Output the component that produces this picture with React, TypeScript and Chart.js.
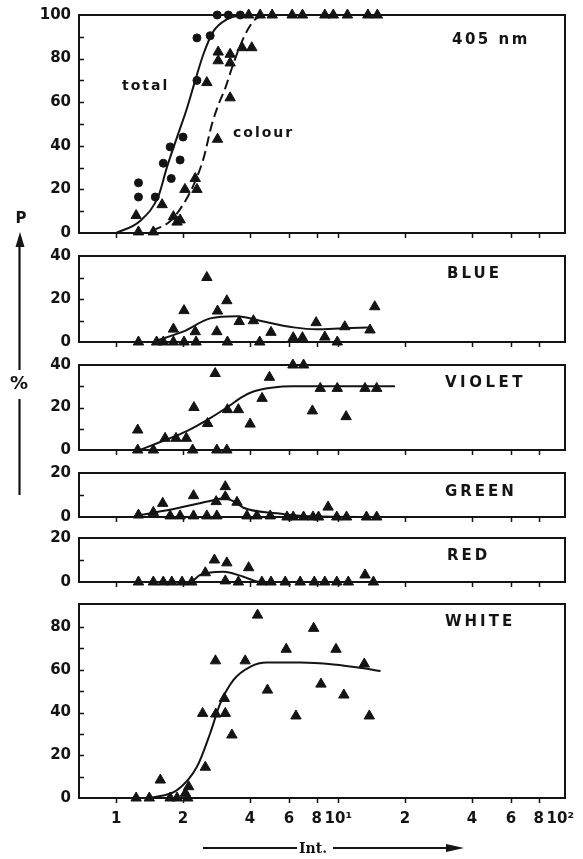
import React, { useEffect, useRef } from "react";
import { Chart, registerables } from "chart.js";
Chart.register(...registerables);

const INK = "#141414";
const FONT = "DejaVu Sans";

const X_MIN = 0.68;
const X_MAX = 105;
const xTickValues = [1, 2, 4, 6, 8, 10, 20, 40, 60, 80, 100];
const xTickLabels = ["1", "2", "4", "6", "8", "10¹", "2", "4", "6", "8", "10²"];

// ---- 405 nm panel ----
const totalX = [1.26, 1.26, 1.5, 1.63, 1.75, 1.77, 1.94, 2.0, 2.31, 2.31, 2.65, 2.85, 3.2, 3.62];
const totalY = [23, 16.5, 16.5, 32, 39.5, 25, 33.5, 44, 70, 89.5, 90.5, 100, 100, 100];
const colourX = [1.23, 1.26, 1.47, 1.61, 1.81, 1.88, 1.94, 2.04, 2.31, 2.27, 2.56, 2.86, 2.88, 2.88, 3.26, 3.26, 3.26, 3.69, 4.08, 3.95, 4.45, 5.04, 6.2, 6.9, 8.7, 9.5, 11.0, 13.6, 15.0];
const colourY = [8, 0.5, 0.5, 13, 7.5, 5, 6, 20, 20, 25, 69, 43, 79, 83, 62, 78, 82, 85, 85, 100, 100, 100, 100, 100, 100, 100, 100, 100, 100];
const totalCurveX = [1.0, 1.28, 1.55, 1.69, 1.88, 2.08, 2.27, 2.47, 2.74, 3.15, 3.74];
const totalCurveY = [0, 5.5, 17, 30, 44, 57, 70, 82, 92.5, 98, 100];
const colourCurveX = [1.45, 1.75, 2.0, 2.23, 2.47, 2.7, 2.89, 3.1, 3.32, 3.62, 3.95, 4.3, 5.0];
const colourCurveY = [1, 5.4, 13, 22, 34, 50, 59, 66.5, 75.7, 86, 94, 98.6, 100];

// ---- BLUE ----
const blueX = [1.26, 1.52, 1.63, 1.81, 1.81, 2.02, 2.02, 2.27, 2.29, 2.56, 2.84, 2.86, 3.15, 3.17, 3.58, 4.15, 4.43, 4.98, 6.27, 6.9, 7.95, 8.7, 9.9, 10.7, 13.9, 14.6];
const blueY = [0, 0, 0, 0, 6, 0, 14.6, 4.8, 0, 30, 4.8, 14.4, 19.2, 0, 9.5, 9.9, 0, 4.5, 2, 2, 9, 2.3, 0, 7.1, 5.6, 16.4];
const blueCurveX = [1.5, 2.0, 2.65, 3.5, 4.45, 6.3, 8.0, 10.5, 13.6];
const blueCurveY = [0.5, 4.8, 11, 12, 9.9, 6.8, 5.9, 6.4, 6.8];

// ---- VIOLET ----
const violetX = [1.25, 1.25, 1.47, 1.66, 1.86, 2.07, 2.21, 2.24, 2.58, 2.79, 2.84, 3.15, 3.17, 3.55, 4.01, 4.54, 4.9, 6.25, 6.98, 7.65, 8.3, 9.9, 10.85, 13.2, 14.9];
const violetY = [9.4, 0, 0, 5.5, 5.5, 5.5, 0, 20, 12.5, 36, 0, 0, 19, 19, 12.2, 24.3, 34.2, 40, 40, 18.4, 29, 29, 15.7, 29, 29];
const violetCurveX = [1.28, 1.6, 2.09, 2.65, 3.15, 3.7, 4.15, 5.0, 6.27, 18];
const violetCurveY = [0, 4, 9, 15, 20, 25, 27.5, 29.3, 30, 30];

// ---- GREEN ----
const greenX = [1.26, 1.47, 1.62, 1.75, 1.94, 2.23, 2.23, 2.56, 2.82, 2.84, 3.1, 3.1, 3.5, 3.88, 4.3, 4.94, 5.88, 6.27, 6.98, 7.7, 8.15, 9.0, 9.85, 10.9, 13.4, 14.9];
const greenY = [0.9, 2.1, 6.2, 0.5, 0.5, 0.5, 9.7, 0.5, 7, 0.5, 13.8, 9.2, 6.7, 0.5, 0.5, 0.5, 0, 0, 0, 0, 0, 4.5, 0, 0, 0, 0];
const greenCurveX = [1.3, 1.88, 2.65, 3.04, 3.4, 3.74, 5.3, 7.5, 15];
const greenCurveY = [1, 4, 7.3, 8.5, 7, 4.2, 1.7, 0.3, 0];

// ---- RED ----
const redX = [1.26, 1.47, 1.63, 1.78, 1.98, 2.19, 2.52, 2.77, 3.1, 3.15, 3.55, 3.95, 4.53, 4.98, 5.77, 6.74, 7.8, 8.7, 9.85, 11.1, 13.2, 14.4];
const redY = [0, 0, 0, 0, 0, 0, 4.2, 10, 0.5, 8.7, 0, 6.5, 0, 0, 0, 0, 0, 0, 0, 0, 3.2, 0];
const redCurveX = [1.3, 2.15, 2.39, 2.8, 3.04, 3.74, 4.45, 15];
const redCurveY = [0, 0, 3.2, 4.6, 4.7, 2.4, 0, 0];

// ---- WHITE ----
const whiteX = [1.23, 1.41, 1.58, 1.75, 1.88, 2.05, 2.1, 2.12, 2.45, 2.52, 2.8, 2.81, 3.07, 3.1, 3.32, 3.81, 4.33, 4.8, 5.83, 6.45, 7.75, 8.36, 9.77, 10.6, 13.1, 13.8];
const whiteY = [0, 0, 8.4, 0, 0, 2.2, 0, 5.3, 39.6, 14.4, 64.2, 39.3, 46.6, 39.6, 29.5, 64.2, 85.6, 50.5, 69.6, 38.4, 79.4, 53.3, 69.6, 48.2, 62.7, 38.4];
const whiteCurveX = [1.42, 1.88, 2.31, 2.65, 2.94, 3.37, 4.01, 4.77, 6.74, 9.52, 13.0, 15.5];
const whiteCurveY = [0, 3.7, 14.6, 30.3, 44.2, 55.2, 61.4, 63.4, 63.4, 62.5, 60.7, 59.4];

const zip = (xs: number[], ys: number[]) => xs.map((x, i) => ({ x, y: ys[i] }));

const triangles = (xs: number[], ys: number[]) => ({
  data: zip(xs, ys),
  pointStyle: "triangle",
  pointRadius: 6,
  backgroundColor: INK,
  borderColor: INK,
  borderWidth: 1,
  showLine: false,
  clip: false,
});
const circles = (xs: number[], ys: number[]) => ({
  data: zip(xs, ys),
  pointStyle: "circle",
  pointRadius: 4,
  backgroundColor: INK,
  borderColor: INK,
  borderWidth: 1,
  showLine: false,
  clip: false,
});
const curve = (xs: number[], ys: number[], dash: number[] = []) => ({
  data: zip(xs, ys),
  showLine: true,
  pointRadius: 0,
  borderColor: INK,
  borderWidth: 2,
  borderDash: dash,
  cubicInterpolationMode: "monotone",
  fill: false,
  clip: false,
});

type Txt = { text: string; dx: number; dy: number; size: number; spacing: number };
type Panel = {
  top: number;
  bottom: number;
  yMax: number;
  yLabels: number[];
  padB: number;
  showX: boolean;
  texts: Txt[];
  datasets: any[];
};

const PAD_T = 12;
const PLOT_LEFT = 79;
const PLOT_RIGHT = 565;
const W = 583;

const panels: Panel[] = [
  {
    top: 15, bottom: 233, yMax: 100, yLabels: [0, 20, 40, 60, 80, 100], padB: 11, showX: false,
    texts: [
      { text: "405 nm", dx: 373, dy: 25, size: 15, spacing: 2.5 },
      { text: "total", dx: 43, dy: 71, size: 14, spacing: 2 },
      { text: "colour", dx: 154, dy: 118, size: 14, spacing: 2 },
    ],
    datasets: [
      curve(totalCurveX, totalCurveY),
      curve(colourCurveX, colourCurveY, [10, 5]),
      circles(totalX, totalY),
      triangles(colourX, colourY),
    ],
  },
  {
    top: 256, bottom: 342, yMax: 40, yLabels: [0, 20, 40], padB: 11, showX: false,
    texts: [{ text: "BLUE", dx: 368, dy: 18, size: 15, spacing: 3 }],
    datasets: [curve(blueCurveX, blueCurveY), triangles(blueX, blueY)],
  },
  {
    top: 365, bottom: 450, yMax: 40, yLabels: [0, 20, 40], padB: 11, showX: false,
    texts: [{ text: "VIOLET", dx: 366, dy: 18, size: 15, spacing: 3.5 }],
    datasets: [curve(violetCurveX, violetCurveY), triangles(violetX, violetY)],
  },
  {
    top: 473, bottom: 517, yMax: 20, yLabels: [0, 20], padB: 11, showX: false,
    texts: [{ text: "GREEN", dx: 366, dy: 19, size: 15, spacing: 3 }],
    datasets: [curve(greenCurveX, greenCurveY), triangles(greenX, greenY)],
  },
  {
    top: 538, bottom: 582, yMax: 20, yLabels: [0, 20], padB: 11, showX: false,
    texts: [{ text: "RED", dx: 368, dy: 18, size: 15, spacing: 3 }],
    datasets: [curve(redCurveX, redCurveY), triangles(redX, redY)],
  },
  {
    top: 604, bottom: 798, yMax: 90.8, yLabels: [0, 20, 40, 60, 80], padB: 40, showX: true,
    texts: [{ text: "WHITE", dx: 366, dy: 18, size: 15, spacing: 3 }],
    datasets: [curve(whiteCurveX, whiteCurveY), triangles(whiteX, whiteY)],
  },
];

function buildConfig(panel: Panel): any {
  const decor = {
    id: "decor",
    beforeDatasetsDraw(chart: any) {
      const { ctx, chartArea: a, scales } = chart;
      const xs = scales.x;
      const ys = scales.y;
      ctx.save();
      ctx.strokeStyle = INK;
      ctx.lineWidth = 2;
      ctx.strokeRect(a.left, a.top, a.right - a.left, a.bottom - a.top);
      ctx.lineWidth = 1.5;
      ctx.beginPath();
      for (let v = 10; v < panel.yMax - 1; v += 10) {
        const py = Math.round(ys.getPixelForValue(v)) + 0.5;
        ctx.moveTo(a.left, py);
        ctx.lineTo(a.left + 5, py);
      }
      for (const v of xTickValues) {
        if (v >= 100) continue;
        const px = Math.round(xs.getPixelForValue(v)) + 0.5;
        ctx.moveTo(px, a.bottom);
        ctx.lineTo(px, a.bottom + 5);
      }
      ctx.stroke();
      ctx.fillStyle = INK;
      ctx.textAlign = "left";
      ctx.textBaseline = "middle";
      for (const t of panel.texts) {
        ctx.font = `bold ${t.size}px "${FONT}"`;
        (ctx as any).letterSpacing = `${t.spacing}px`;
        ctx.fillText(t.text, a.left + t.dx, a.top + t.dy);
      }
      ctx.restore();
    },
  };
  return {
    type: "scatter",
    data: { datasets: panel.datasets },
    options: {
      responsive: false,
      animation: false,
      devicePixelRatio: 1,
      events: [],
      layout: { padding: { top: PAD_T, right: W - PLOT_RIGHT, bottom: 0, left: 0 } },
      plugins: { legend: { display: false }, tooltip: { enabled: false } },
      scales: {
        x: {
          type: "logarithmic",
          position: "bottom",
          min: X_MIN,
          max: X_MAX,
          afterBuildTicks: (s: any) => {
            s.ticks = xTickValues.map((v) => ({ value: v }));
          },
          afterFit: (s: any) => {
            s.height = panel.padB;
            s.paddingLeft = 0;
            s.paddingRight = 0;
          },
          grid: { display: false, drawTicks: false },
          border: { display: false },
          ticks: {
            display: panel.showX,
            autoSkip: false,
            maxRotation: 0,
            padding: 12,
            color: INK,
            font: { family: FONT, weight: "bold", size: 15 },
            callback: (_v: any, i: number) => xTickLabels[i],
          },
        },
        y: {
          type: "linear",
          position: "left",
          min: 0,
          max: panel.yMax,
          afterBuildTicks: (s: any) => {
            s.ticks = panel.yLabels.map((v) => ({ value: v }));
          },
          afterFit: (s: any) => {
            s.width = PLOT_LEFT;
            s.paddingTop = 0;
            s.paddingBottom = 0;
          },
          grid: { display: false, drawTicks: false },
          border: { display: false },
          ticks: {
            autoSkip: false,
            padding: 8,
            color: INK,
            font: { family: FONT, weight: "bold", size: 15 },
            callback: (v: any) => String(v),
          },
        },
      },
    },
    plugins: [decor],
  };
}

function PanelChart({ panel }: { panel: Panel }) {
  const ref = useRef<HTMLCanvasElement>(null);
  const h = panel.bottom - panel.top + PAD_T + panel.padB;
  useEffect(() => {
    const chart = new Chart(ref.current as HTMLCanvasElement, buildConfig(panel));
    return () => chart.destroy();
  }, [panel]);
  return (
    <canvas
      ref={ref}
      width={W}
      height={h}
      style={{ position: "absolute", left: 0, top: panel.top - PAD_T, width: W, height: h }}
    />
  );
}

export default function App() {
  return (
    <div style={{ position: "absolute", left: 0, top: 0, width: W, height: 859, background: "#fff" }}>
      {panels.map((p, i) => (
        <PanelChart key={i} panel={p} />
      ))}
      <svg
        width={W}
        height={859}
        style={{ position: "absolute", left: 0, top: 0, pointerEvents: "none" }}
      >
        <text x={21} y={223} textAnchor="middle" fontFamily={FONT} fontWeight="bold" fontSize={15} fill={INK}>
          P
        </text>
        <polygon points="20,232 15.5,247 24.5,247" fill={INK} />
        <line x1={19.5} y1={245} x2={19.5} y2={370} stroke={INK} strokeWidth={2.2} />
        <text x={19} y={389} textAnchor="middle" fontFamily={FONT} fontWeight="bold" fontSize={18} fill={INK}>
          %
        </text>
        <line x1={19.5} y1={399} x2={19.5} y2={495} stroke={INK} strokeWidth={2.2} />
        <line x1={203} y1={848} x2={297} y2={848} stroke={INK} strokeWidth={2} />
        <text x={313} y={853} textAnchor="middle" fontFamily="DejaVu Serif" fontWeight="bold" fontSize={14} fill={INK}>
          Int.
        </text>
        <line x1={333} y1={848} x2={450} y2={848} stroke={INK} strokeWidth={2.2} />
        <polygon points="464,848 446,844 446,852" fill={INK} />
      </svg>
    </div>
  );
}
